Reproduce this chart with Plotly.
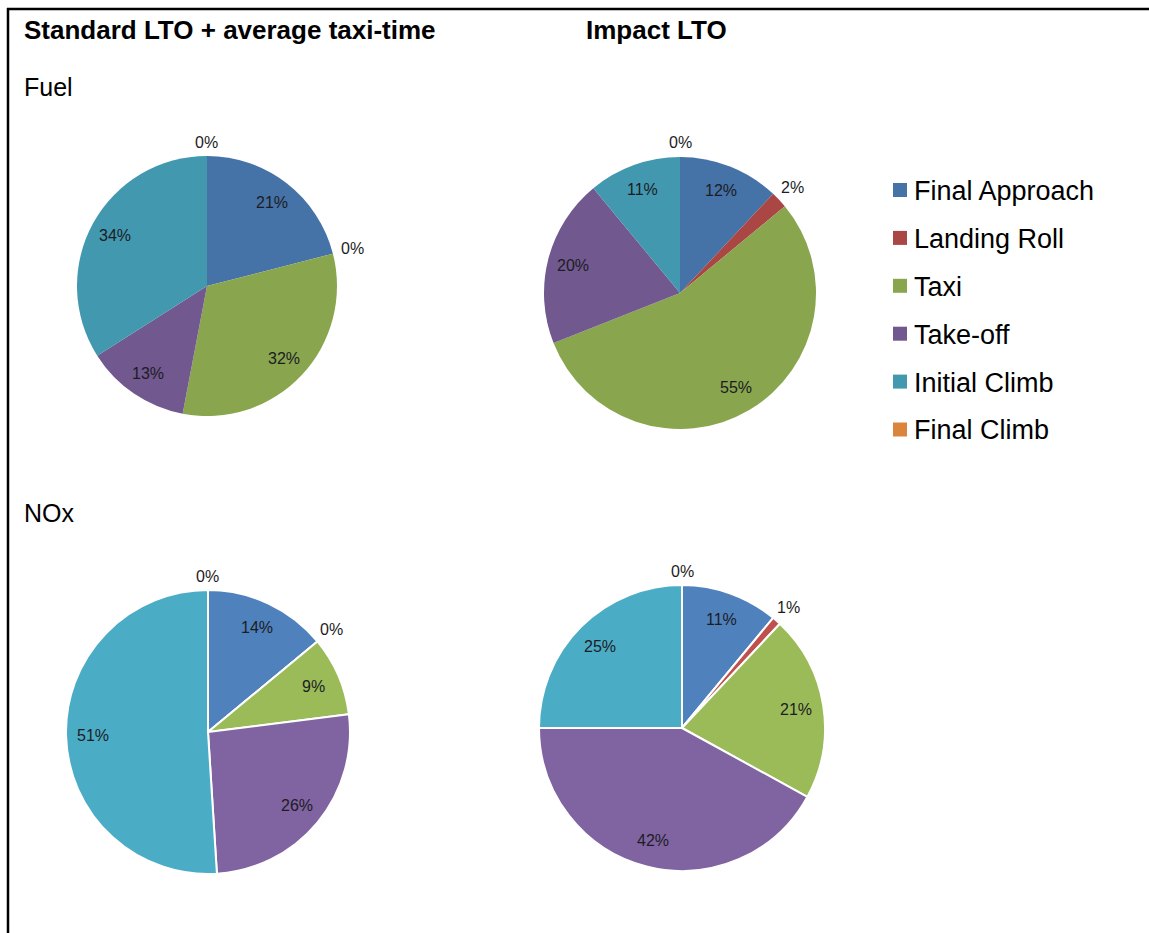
import math
import plotly.graph_objects as go

# Flight phases of the landing/take-off (LTO) cycle
phases = ["Final Approach", "Landing Roll", "Taxi", "Take-off", "Initial Climb", "Final Climb"]

# Share of each phase (%)
fuel_standard = [21, 0, 32, 13, 34, 0]
fuel_impact = [12, 2, 55, 20, 11, 0]
nox_standard = [14, 0, 9, 26, 51, 0]
nox_impact = [11, 1, 21, 42, 25, 0]

colors_fuel = ["#4572A7", "#AA4643", "#89A54E", "#71588F", "#4198AF", "#DB843D"]
colors_nox = ["#4F81BD", "#C0504D", "#9BBB59", "#8064A2", "#4BACC6", "#F79646"]

W, H = 1149, 933
FONT = "Liberation Sans, Arial, Helvetica, sans-serif"
LABEL_COLOR = "#1c1c24"


def px(x):
    return x / W


def py(y):
    return 1 - y / H


# pie placement in pixels: (values, colours, centre x, centre y, radius, separator width)
pies = [
    (fuel_standard, colors_fuel, 207, 286, 130, 0),
    (fuel_impact, colors_fuel, 680, 293, 136, 0),
    (nox_standard, colors_nox, 208, 732, 142, 2),
    (nox_impact, colors_nox, 682, 728, 143, 2),
]

fig = go.Figure()
annotations = []

for values, colors, cx, cy, r, lw in pies:
    fig.add_trace(go.Pie(
        labels=phases,
        values=values,
        sort=False,
        direction="clockwise",
        rotation=0,
        marker=dict(colors=colors, line=dict(color="white", width=lw)),
        textinfo="none",
        hoverinfo="label+percent",
        showlegend=False,
        domain=dict(x=[px(cx - r), px(cx + r)], y=[py(cy + r), py(cy - r)]),
    ))

    # percentage labels placed along each slice's mid-angle
    total = float(sum(values))
    cum = 0.0
    for v in values:
        theta = 2 * math.pi * (cum + v / 2) / total
        cum += v
        if v >= 5:
            rho = 0.81 * r
        else:
            rho = r + 14 + 6 * abs(math.sin(theta))
        lx = cx + rho * math.sin(theta)
        ly = cy - rho * math.cos(theta)
        annotations.append(dict(
            x=px(lx), y=py(ly), xref="paper", yref="paper",
            text=f"{v:.0f}%", showarrow=False,
            xanchor="center", yanchor="middle",
            font=dict(family=FONT, size=16, color=LABEL_COLOR),
        ))

# headings
headings = [
    ("<b>Standard LTO + average taxi-time</b>", 22, 30, 26),
    ("<b>Impact LTO</b>", 584, 30, 26),
    ("Fuel", 22, 87, 25),
    ("NOx", 22, 513, 25),
]
for text, x, y, size in headings:
    annotations.append(dict(
        x=px(x), y=py(y), xref="paper", yref="paper", text=text,
        showarrow=False, xanchor="left", yanchor="middle",
        font=dict(family=FONT, size=size, color="black"),
    ))

# legend: coloured squares with phase names
shapes = []
leg_x, leg_y0, leg_dy, sq = 893, 190, 47.9, 14
for i, (name, col) in enumerate(zip(phases, colors_fuel)):
    yc = leg_y0 + i * leg_dy
    shapes.append(dict(
        type="rect", xref="paper", yref="paper",
        x0=px(leg_x), x1=px(leg_x + sq), y0=py(yc + sq / 2), y1=py(yc - sq / 2),
        fillcolor=col, line=dict(width=0),
    ))
    annotations.append(dict(
        x=px(leg_x + sq + 5), y=py(yc + 1), xref="paper", yref="paper", text=name,
        showarrow=False, xanchor="left", yanchor="middle",
        font=dict(family=FONT, size=27, color="black"),
    ))

# table-cell border along the top and left edges
shapes.append(dict(type="line", xref="paper", yref="paper",
                   x0=px(7), x1=1, y0=py(9), y1=py(9),
                   line=dict(color="black", width=2.5)))
shapes.append(dict(type="line", xref="paper", yref="paper",
                   x0=px(8), x1=px(8), y0=py(8), y1=0,
                   line=dict(color="black", width=2.5)))

fig.update_layout(
    width=W, height=H,
    margin=dict(l=0, r=0, t=0, b=0),
    paper_bgcolor="white", plot_bgcolor="white",
    showlegend=False,
    annotations=annotations,
    shapes=shapes,
)

fig.write_html("out.html")
